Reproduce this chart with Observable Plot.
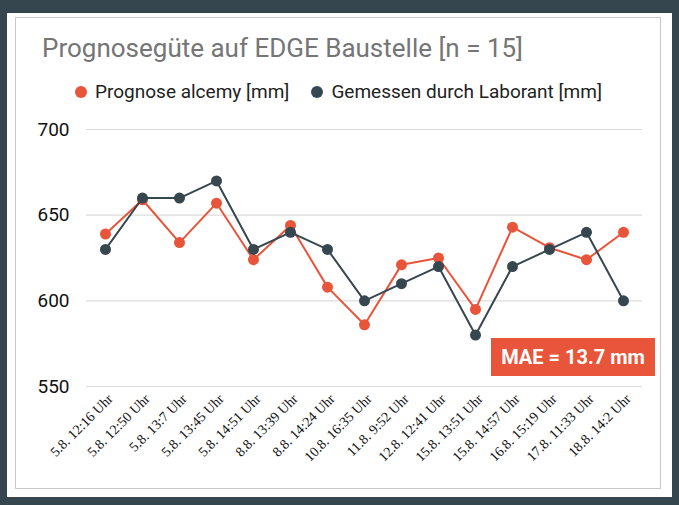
<!DOCTYPE html>
<html><head><meta charset="utf-8">
<script src="https://cdn.jsdelivr.net/npm/d3@7"></script>
<script src="https://cdn.jsdelivr.net/npm/@observablehq/plot@0.6"></script>
<style>
html,body{margin:0;padding:0;}
body{width:679px;height:505px;background:#36464f;position:relative;overflow:hidden;font-family:Roboto,"Noto Sans",sans-serif;}
#outer{position:absolute;left:7px;top:13px;width:665px;height:484px;background:#fff;}
#card{position:absolute;left:15px;top:17px;width:644px;height:470px;border:1px solid #c8c8c8;background:#fff;}
#title{position:absolute;left:42px;top:33px;font-size:26px;color:#757575;white-space:nowrap;}
#legend{position:absolute;left:75px;top:80px;font-size:19px;color:#222;white-space:nowrap;display:flex;align-items:center;}
.dot{display:inline-block;width:12px;height:12px;border-radius:50%;margin-right:8px;}
.item{display:flex;align-items:center;margin-right:22px;}
#chart{position:absolute;left:12px;top:110px;}
#mae{position:absolute;left:491px;top:338px;width:164px;height:38px;background:#e8553a;color:#fff;font-weight:bold;font-size:20px;display:flex;align-items:center;justify-content:center;}
</style></head>
<body>
<div id="outer"></div>
<div id="card"></div>
<div id="title"></div>
<div id="legend"></div>
<div id="chart"></div>
<div id="mae"></div>
<script>
const labels = ["5.8. 12:16 Uhr","5.8. 12:50 Uhr","5.8. 13:7 Uhr","5.8. 13:45 Uhr","5.8. 14:51 Uhr","8.8. 13:39 Uhr","8.8. 14:24 Uhr","10.8. 16:35 Uhr","11.8. 9:52 Uhr","12.8. 12:41 Uhr","15.8. 13:51 Uhr","15.8. 14:57 Uhr","16.8. 15:19 Uhr","17.8. 11:33 Uhr","18.8. 14:2 Uhr"];
const prognose = [639,659,634,657,624,644,608,586,621,625,595,643,631,624,640];
const gemessen = [630,660,660,670,630,640,630,600,610,620,580,620,630,640,600];
const seriesNames = ["Prognose alcemy [mm]","Gemessen durch Laborant [mm]"];
const seriesColors = ["#e8553a","#37474f"];
const yTicks = [550,600,650,700];
const titleText = "Prognosegüte auf EDGE Baustelle [n = 15]";
const maeText = "MAE = 13.7 mm";

document.getElementById("title").textContent = titleText;
document.getElementById("mae").textContent = maeText;
const leg = document.getElementById("legend");
seriesNames.forEach((n,i)=>{
  const it = document.createElement("span"); it.className="item";
  const d = document.createElement("span"); d.className="dot"; d.style.background=seriesColors[i];
  it.appendChild(d); it.appendChild(document.createTextNode(n)); leg.appendChild(it);
});

const dP = labels.map((l,i)=>({label:l, v:prognose[i]}));
const dG = labels.map((l,i)=>({label:l, v:gemessen[i]}));

const chart = Plot.plot({
  width: 656, height: 380,
  marginTop: 19, marginBottom: 104, marginLeft: 74, marginRight: 26,
  style: {background: "transparent", fontFamily: "Roboto, sans-serif"},
  x: {type: "point", domain: labels, range: [92, 611], padding: 0},
  y: {domain: [550, 700], ticks: yTicks},
  marks: [
    Plot.ruleY(yTicks, {stroke: "#dcdcdc", strokeWidth: 1.2}),
    Plot.axisY({ticks: yTicks, tickSize: 0, textAnchor: "start", dx: -40, fontSize: 19, fill: "#111", label: null}),
    Plot.axisX({tickSize: 0, tickPadding: 10, tickRotate: -45, dx: 5, fontSize: 14, fontFamily: "Liberation Serif, Times New Roman, serif", fill: "#111", label: null}),
    Plot.line(dP, {x: "label", y: "v", stroke: seriesColors[0], strokeWidth: 2}),
    Plot.dot(dP, {x: "label", y: "v", fill: seriesColors[0], r: 5.5}),
    Plot.line(dG, {x: "label", y: "v", stroke: seriesColors[1], strokeWidth: 2}),
    Plot.dot(dG, {x: "label", y: "v", fill: seriesColors[1], r: 5.5})
  ]
});
document.getElementById("chart").appendChild(chart);
</script>
</body></html>
